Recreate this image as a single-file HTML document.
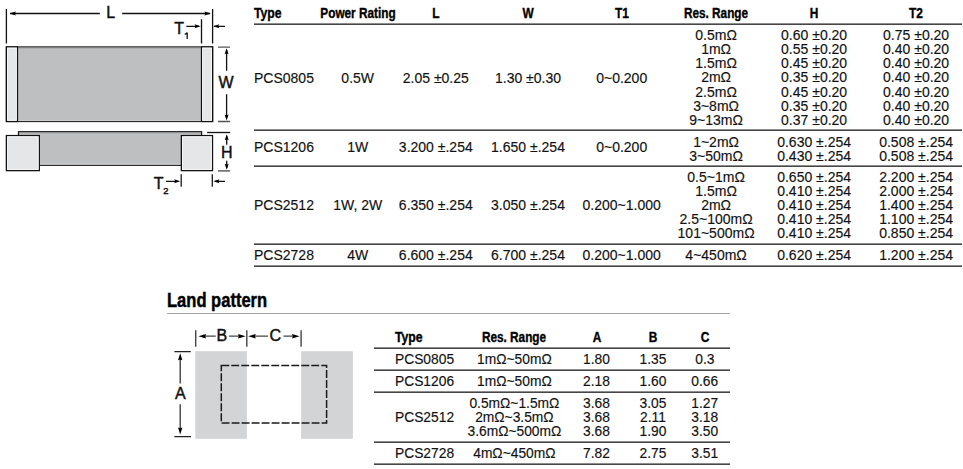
<!DOCTYPE html>
<html><head><meta charset="utf-8"><style>
html,body{margin:0;padding:0;background:#fff;}
body{width:963px;height:469px;position:relative;overflow:hidden;font-family:"Liberation Sans", sans-serif;}
.t{position:absolute;white-space:nowrap;-webkit-text-stroke:0.15px currentColor;}
.l{position:absolute;}
.d{position:absolute;left:0;top:0;}
</style></head><body>
<div class="t" style="left:254.00px;top:5.75px;font-size:14.0px;line-height:14.0px;font-weight:700;transform:scaleX(0.874);transform-origin:0 50%;color:#000;-webkit-text-stroke:0.35px #000;">Type</div><div class="t" style="left:357.70px;top:5.75px;font-size:14.0px;line-height:14.0px;font-weight:700;transform:translateX(-50%) scaleX(0.842);transform-origin:50% 50%;color:#000;-webkit-text-stroke:0.35px #000;">Power Rating</div><div class="t" style="left:435.80px;top:5.75px;font-size:14.0px;line-height:14.0px;font-weight:700;transform:translateX(-50%) scaleX(0.85);transform-origin:50% 50%;color:#000;-webkit-text-stroke:0.35px #000;">L</div><div class="t" style="left:528.00px;top:5.75px;font-size:14.0px;line-height:14.0px;font-weight:700;transform:translateX(-50%) scaleX(0.85);transform-origin:50% 50%;color:#000;-webkit-text-stroke:0.35px #000;">W</div><div class="t" style="left:621.70px;top:5.75px;font-size:14.0px;line-height:14.0px;font-weight:700;transform:translateX(-50%) scaleX(0.85);transform-origin:50% 50%;color:#000;-webkit-text-stroke:0.35px #000;">T1</div><div class="t" style="left:716.10px;top:5.75px;font-size:14.0px;line-height:14.0px;font-weight:700;transform:translateX(-50%) scaleX(0.842);transform-origin:50% 50%;color:#000;-webkit-text-stroke:0.35px #000;">Res. Range</div><div class="t" style="left:814.10px;top:5.75px;font-size:14.0px;line-height:14.0px;font-weight:700;transform:translateX(-50%) scaleX(0.85);transform-origin:50% 50%;color:#000;-webkit-text-stroke:0.35px #000;">H</div><div class="t" style="left:916.10px;top:5.75px;font-size:14.0px;line-height:14.0px;font-weight:700;transform:translateX(-50%) scaleX(0.85);transform-origin:50% 50%;color:#000;-webkit-text-stroke:0.35px #000;">T2</div><div class="l" style="left:254px;top:23px;width:708px;height:2px;background:linear-gradient(#8c8c8c 50%,#464646 50%)"></div><div class="l" style="left:254px;top:129px;width:708px;height:2px;background:linear-gradient(#8c8c8c 50%,#464646 50%)"></div><div class="l" style="left:254px;top:165px;width:708px;height:2px;background:linear-gradient(#8c8c8c 50%,#464646 50%)"></div><div class="l" style="left:254px;top:243px;width:708px;height:2px;background:linear-gradient(#8c8c8c 50%,#464646 50%)"></div><div class="l" style="left:254px;top:265px;width:708px;height:2px;background:linear-gradient(#8c8c8c 50%,#464646 50%)"></div><div class="t" style="left:254.00px;top:70.75px;font-size:14px;line-height:14px;color:#111;">PCS0805</div><div class="t" style="left:357.70px;top:70.75px;font-size:14px;line-height:14px;transform:translateX(-50%) scaleX(1.0);transform-origin:50% 50%;color:#111;">0.5W</div><div class="t" style="left:435.80px;top:70.75px;font-size:14px;line-height:14px;transform:translateX(-50%) scaleX(1.0);transform-origin:50% 50%;color:#111;">2.05 &plusmn;0.25</div><div class="t" style="left:528.00px;top:70.75px;font-size:14px;line-height:14px;transform:translateX(-50%) scaleX(1.0);transform-origin:50% 50%;color:#111;">1.30 &plusmn;0.30</div><div class="t" style="left:621.70px;top:70.75px;font-size:14px;line-height:14px;transform:translateX(-50%) scaleX(1.0);transform-origin:50% 50%;color:#111;">0~0.200</div><div class="t" style="left:716.10px;top:28.15px;font-size:14px;line-height:14px;transform:translateX(-50%) scaleX(1.0);transform-origin:50% 50%;color:#111;">0.5m&Omega;</div><div class="t" style="left:814.10px;top:28.15px;font-size:14px;line-height:14px;transform:translateX(-50%) scaleX(1.0);transform-origin:50% 50%;color:#111;">0.60 &plusmn;0.20</div><div class="t" style="left:916.10px;top:28.15px;font-size:14px;line-height:14px;transform:translateX(-50%) scaleX(1.0);transform-origin:50% 50%;color:#111;">0.75 &plusmn;0.20</div><div class="t" style="left:716.10px;top:42.25px;font-size:14px;line-height:14px;transform:translateX(-50%) scaleX(1.0);transform-origin:50% 50%;color:#111;">1m&Omega;</div><div class="t" style="left:814.10px;top:42.25px;font-size:14px;line-height:14px;transform:translateX(-50%) scaleX(1.0);transform-origin:50% 50%;color:#111;">0.55 &plusmn;0.20</div><div class="t" style="left:916.10px;top:42.25px;font-size:14px;line-height:14px;transform:translateX(-50%) scaleX(1.0);transform-origin:50% 50%;color:#111;">0.40 &plusmn;0.20</div><div class="t" style="left:716.10px;top:56.35px;font-size:14px;line-height:14px;transform:translateX(-50%) scaleX(1.0);transform-origin:50% 50%;color:#111;">1.5m&Omega;</div><div class="t" style="left:814.10px;top:56.35px;font-size:14px;line-height:14px;transform:translateX(-50%) scaleX(1.0);transform-origin:50% 50%;color:#111;">0.45 &plusmn;0.20</div><div class="t" style="left:916.10px;top:56.35px;font-size:14px;line-height:14px;transform:translateX(-50%) scaleX(1.0);transform-origin:50% 50%;color:#111;">0.40 &plusmn;0.20</div><div class="t" style="left:716.10px;top:70.45px;font-size:14px;line-height:14px;transform:translateX(-50%) scaleX(1.0);transform-origin:50% 50%;color:#111;">2m&Omega;</div><div class="t" style="left:814.10px;top:70.45px;font-size:14px;line-height:14px;transform:translateX(-50%) scaleX(1.0);transform-origin:50% 50%;color:#111;">0.35 &plusmn;0.20</div><div class="t" style="left:916.10px;top:70.45px;font-size:14px;line-height:14px;transform:translateX(-50%) scaleX(1.0);transform-origin:50% 50%;color:#111;">0.40 &plusmn;0.20</div><div class="t" style="left:716.10px;top:84.55px;font-size:14px;line-height:14px;transform:translateX(-50%) scaleX(1.0);transform-origin:50% 50%;color:#111;">2.5m&Omega;</div><div class="t" style="left:814.10px;top:84.55px;font-size:14px;line-height:14px;transform:translateX(-50%) scaleX(1.0);transform-origin:50% 50%;color:#111;">0.45 &plusmn;0.20</div><div class="t" style="left:916.10px;top:84.55px;font-size:14px;line-height:14px;transform:translateX(-50%) scaleX(1.0);transform-origin:50% 50%;color:#111;">0.40 &plusmn;0.20</div><div class="t" style="left:716.10px;top:98.65px;font-size:14px;line-height:14px;transform:translateX(-50%) scaleX(1.0);transform-origin:50% 50%;color:#111;">3~8m&Omega;</div><div class="t" style="left:814.10px;top:98.65px;font-size:14px;line-height:14px;transform:translateX(-50%) scaleX(1.0);transform-origin:50% 50%;color:#111;">0.35 &plusmn;0.20</div><div class="t" style="left:916.10px;top:98.65px;font-size:14px;line-height:14px;transform:translateX(-50%) scaleX(1.0);transform-origin:50% 50%;color:#111;">0.40 &plusmn;0.20</div><div class="t" style="left:716.10px;top:112.75px;font-size:14px;line-height:14px;transform:translateX(-50%) scaleX(1.0);transform-origin:50% 50%;color:#111;">9~13m&Omega;</div><div class="t" style="left:814.10px;top:112.75px;font-size:14px;line-height:14px;transform:translateX(-50%) scaleX(1.0);transform-origin:50% 50%;color:#111;">0.37 &plusmn;0.20</div><div class="t" style="left:916.10px;top:112.75px;font-size:14px;line-height:14px;transform:translateX(-50%) scaleX(1.0);transform-origin:50% 50%;color:#111;">0.40 &plusmn;0.20</div><div class="t" style="left:254.00px;top:140.15px;font-size:14px;line-height:14px;color:#111;">PCS1206</div><div class="t" style="left:357.70px;top:140.15px;font-size:14px;line-height:14px;transform:translateX(-50%) scaleX(1.0);transform-origin:50% 50%;color:#111;">1W</div><div class="t" style="left:435.80px;top:140.15px;font-size:14px;line-height:14px;transform:translateX(-50%) scaleX(1.0);transform-origin:50% 50%;color:#111;">3.200 &plusmn;.254</div><div class="t" style="left:528.00px;top:140.15px;font-size:14px;line-height:14px;transform:translateX(-50%) scaleX(1.0);transform-origin:50% 50%;color:#111;">1.650 &plusmn;.254</div><div class="t" style="left:621.70px;top:140.15px;font-size:14px;line-height:14px;transform:translateX(-50%) scaleX(1.0);transform-origin:50% 50%;color:#111;">0~0.200</div><div class="t" style="left:716.10px;top:134.75px;font-size:14px;line-height:14px;transform:translateX(-50%) scaleX(1.0);transform-origin:50% 50%;color:#111;">1~2m&Omega;</div><div class="t" style="left:814.10px;top:134.75px;font-size:14px;line-height:14px;transform:translateX(-50%) scaleX(1.0);transform-origin:50% 50%;color:#111;">0.630 &plusmn;.254</div><div class="t" style="left:916.10px;top:134.75px;font-size:14px;line-height:14px;transform:translateX(-50%) scaleX(1.0);transform-origin:50% 50%;color:#111;">0.508 &plusmn;.254</div><div class="t" style="left:716.10px;top:148.85px;font-size:14px;line-height:14px;transform:translateX(-50%) scaleX(1.0);transform-origin:50% 50%;color:#111;">3~50m&Omega;</div><div class="t" style="left:814.10px;top:148.85px;font-size:14px;line-height:14px;transform:translateX(-50%) scaleX(1.0);transform-origin:50% 50%;color:#111;">0.430 &plusmn;.254</div><div class="t" style="left:916.10px;top:148.85px;font-size:14px;line-height:14px;transform:translateX(-50%) scaleX(1.0);transform-origin:50% 50%;color:#111;">0.508 &plusmn;.254</div><div class="t" style="left:254.00px;top:197.95px;font-size:14px;line-height:14px;color:#111;">PCS2512</div><div class="t" style="left:357.70px;top:197.95px;font-size:14px;line-height:14px;transform:translateX(-50%) scaleX(1.0);transform-origin:50% 50%;color:#111;">1W, 2W</div><div class="t" style="left:435.80px;top:197.95px;font-size:14px;line-height:14px;transform:translateX(-50%) scaleX(1.0);transform-origin:50% 50%;color:#111;">6.350 &plusmn;.254</div><div class="t" style="left:528.00px;top:197.95px;font-size:14px;line-height:14px;transform:translateX(-50%) scaleX(1.0);transform-origin:50% 50%;color:#111;">3.050 &plusmn;.254</div><div class="t" style="left:621.70px;top:197.95px;font-size:14px;line-height:14px;transform:translateX(-50%) scaleX(1.0);transform-origin:50% 50%;color:#111;">0.200~1.000</div><div class="t" style="left:716.10px;top:170.35px;font-size:14px;line-height:14px;transform:translateX(-50%) scaleX(1.0);transform-origin:50% 50%;color:#111;">0.5~1m&Omega;</div><div class="t" style="left:814.10px;top:170.35px;font-size:14px;line-height:14px;transform:translateX(-50%) scaleX(1.0);transform-origin:50% 50%;color:#111;">0.650 &plusmn;.254</div><div class="t" style="left:916.10px;top:170.35px;font-size:14px;line-height:14px;transform:translateX(-50%) scaleX(1.0);transform-origin:50% 50%;color:#111;">2.200 &plusmn;.254</div><div class="t" style="left:716.10px;top:184.35px;font-size:14px;line-height:14px;transform:translateX(-50%) scaleX(1.0);transform-origin:50% 50%;color:#111;">1.5m&Omega;</div><div class="t" style="left:814.10px;top:184.35px;font-size:14px;line-height:14px;transform:translateX(-50%) scaleX(1.0);transform-origin:50% 50%;color:#111;">0.410 &plusmn;.254</div><div class="t" style="left:916.10px;top:184.35px;font-size:14px;line-height:14px;transform:translateX(-50%) scaleX(1.0);transform-origin:50% 50%;color:#111;">2.000 &plusmn;.254</div><div class="t" style="left:716.10px;top:198.35px;font-size:14px;line-height:14px;transform:translateX(-50%) scaleX(1.0);transform-origin:50% 50%;color:#111;">2m&Omega;</div><div class="t" style="left:814.10px;top:198.35px;font-size:14px;line-height:14px;transform:translateX(-50%) scaleX(1.0);transform-origin:50% 50%;color:#111;">0.410 &plusmn;.254</div><div class="t" style="left:916.10px;top:198.35px;font-size:14px;line-height:14px;transform:translateX(-50%) scaleX(1.0);transform-origin:50% 50%;color:#111;">1.400 &plusmn;.254</div><div class="t" style="left:716.10px;top:212.35px;font-size:14px;line-height:14px;transform:translateX(-50%) scaleX(1.0);transform-origin:50% 50%;color:#111;">2.5~100m&Omega;</div><div class="t" style="left:814.10px;top:212.35px;font-size:14px;line-height:14px;transform:translateX(-50%) scaleX(1.0);transform-origin:50% 50%;color:#111;">0.410 &plusmn;.254</div><div class="t" style="left:916.10px;top:212.35px;font-size:14px;line-height:14px;transform:translateX(-50%) scaleX(1.0);transform-origin:50% 50%;color:#111;">1.100 &plusmn;.254</div><div class="t" style="left:716.10px;top:226.35px;font-size:14px;line-height:14px;transform:translateX(-50%) scaleX(1.0);transform-origin:50% 50%;color:#111;">101~500m&Omega;</div><div class="t" style="left:814.10px;top:226.35px;font-size:14px;line-height:14px;transform:translateX(-50%) scaleX(1.0);transform-origin:50% 50%;color:#111;">0.410 &plusmn;.254</div><div class="t" style="left:916.10px;top:226.35px;font-size:14px;line-height:14px;transform:translateX(-50%) scaleX(1.0);transform-origin:50% 50%;color:#111;">0.850 &plusmn;.254</div><div class="t" style="left:254.00px;top:248.15px;font-size:14px;line-height:14px;color:#111;">PCS2728</div><div class="t" style="left:357.70px;top:248.15px;font-size:14px;line-height:14px;transform:translateX(-50%) scaleX(1.0);transform-origin:50% 50%;color:#111;">4W</div><div class="t" style="left:435.80px;top:248.15px;font-size:14px;line-height:14px;transform:translateX(-50%) scaleX(1.0);transform-origin:50% 50%;color:#111;">6.600 &plusmn;.254</div><div class="t" style="left:528.00px;top:248.15px;font-size:14px;line-height:14px;transform:translateX(-50%) scaleX(1.0);transform-origin:50% 50%;color:#111;">6.700 &plusmn;.254</div><div class="t" style="left:621.70px;top:248.15px;font-size:14px;line-height:14px;transform:translateX(-50%) scaleX(1.0);transform-origin:50% 50%;color:#111;">0.200~1.000</div><div class="t" style="left:716.10px;top:248.15px;font-size:14px;line-height:14px;transform:translateX(-50%) scaleX(1.0);transform-origin:50% 50%;color:#111;">4~450m&Omega;</div><div class="t" style="left:814.10px;top:248.15px;font-size:14px;line-height:14px;transform:translateX(-50%) scaleX(1.0);transform-origin:50% 50%;color:#111;">0.620 &plusmn;.254</div><div class="t" style="left:916.10px;top:248.15px;font-size:14px;line-height:14px;transform:translateX(-50%) scaleX(1.0);transform-origin:50% 50%;color:#111;">1.200 &plusmn;.254</div><div class="t" style="left:166.80px;top:289.87px;font-size:20px;line-height:20px;font-weight:700;transform:scaleX(0.827);transform-origin:0 50%;color:#000;-webkit-text-stroke:0.45px #000;">Land pattern</div><div class="l" style="left:167px;top:312.70px;width:563px;height:1.2px;background:#a2a3a7"></div><div class="t" style="left:394.60px;top:329.95px;font-size:14px;line-height:14px;font-weight:700;transform:scaleX(0.874);transform-origin:0 50%;color:#000;-webkit-text-stroke:0.35px #000;">Type</div><div class="t" style="left:514.20px;top:329.95px;font-size:14px;line-height:14px;font-weight:700;transform:translateX(-50%) scaleX(0.842);transform-origin:50% 50%;color:#000;-webkit-text-stroke:0.35px #000;">Res. Range</div><div class="t" style="left:596.50px;top:329.95px;font-size:14px;line-height:14px;font-weight:700;transform:translateX(-50%) scaleX(0.85);transform-origin:50% 50%;color:#000;-webkit-text-stroke:0.35px #000;">A</div><div class="t" style="left:653.00px;top:329.95px;font-size:14px;line-height:14px;font-weight:700;transform:translateX(-50%) scaleX(0.85);transform-origin:50% 50%;color:#000;-webkit-text-stroke:0.35px #000;">B</div><div class="t" style="left:704.80px;top:329.95px;font-size:14px;line-height:14px;font-weight:700;transform:translateX(-50%) scaleX(0.85);transform-origin:50% 50%;color:#000;-webkit-text-stroke:0.35px #000;">C</div><div class="l" style="left:374px;top:347px;width:356px;height:2px;background:linear-gradient(#8c8c8c 50%,#464646 50%)"></div><div class="l" style="left:374px;top:369px;width:356px;height:2px;background:linear-gradient(#8c8c8c 50%,#464646 50%)"></div><div class="l" style="left:374px;top:391px;width:356px;height:2px;background:linear-gradient(#8c8c8c 50%,#464646 50%)"></div><div class="l" style="left:374px;top:441px;width:356px;height:2px;background:linear-gradient(#8c8c8c 50%,#464646 50%)"></div><div class="l" style="left:374px;top:463px;width:356px;height:2px;background:linear-gradient(#8c8c8c 50%,#464646 50%)"></div><div class="t" style="left:395.00px;top:353.02px;font-size:13.8px;line-height:13.8px;color:#111;">PCS0805</div><div class="t" style="left:514.40px;top:353.02px;font-size:13.8px;line-height:13.8px;transform:translateX(-50%) scaleX(1.0);transform-origin:50% 50%;color:#111;">1m&Omega;~50m&Omega;</div><div class="t" style="left:596.50px;top:353.02px;font-size:13.8px;line-height:13.8px;transform:translateX(-50%) scaleX(1.0);transform-origin:50% 50%;color:#111;">1.80</div><div class="t" style="left:653.00px;top:353.02px;font-size:13.8px;line-height:13.8px;transform:translateX(-50%) scaleX(1.0);transform-origin:50% 50%;color:#111;">1.35</div><div class="t" style="left:704.80px;top:353.02px;font-size:13.8px;line-height:13.8px;transform:translateX(-50%) scaleX(1.0);transform-origin:50% 50%;color:#111;">0.3</div><div class="t" style="left:395.00px;top:374.92px;font-size:13.8px;line-height:13.8px;color:#111;">PCS1206</div><div class="t" style="left:514.40px;top:374.92px;font-size:13.8px;line-height:13.8px;transform:translateX(-50%) scaleX(1.0);transform-origin:50% 50%;color:#111;">1m&Omega;~50m&Omega;</div><div class="t" style="left:596.50px;top:374.92px;font-size:13.8px;line-height:13.8px;transform:translateX(-50%) scaleX(1.0);transform-origin:50% 50%;color:#111;">2.18</div><div class="t" style="left:653.00px;top:374.92px;font-size:13.8px;line-height:13.8px;transform:translateX(-50%) scaleX(1.0);transform-origin:50% 50%;color:#111;">1.60</div><div class="t" style="left:704.80px;top:374.92px;font-size:13.8px;line-height:13.8px;transform:translateX(-50%) scaleX(1.0);transform-origin:50% 50%;color:#111;">0.66</div><div class="t" style="left:395.00px;top:411.12px;font-size:13.8px;line-height:13.8px;color:#111;">PCS2512</div><div class="t" style="left:514.40px;top:396.82px;font-size:13.8px;line-height:13.8px;transform:translateX(-50%) scaleX(1.0);transform-origin:50% 50%;color:#111;">0.5m&Omega;~1.5m&Omega;</div><div class="t" style="left:596.50px;top:396.82px;font-size:13.8px;line-height:13.8px;transform:translateX(-50%) scaleX(1.0);transform-origin:50% 50%;color:#111;">3.68</div><div class="t" style="left:653.00px;top:396.82px;font-size:13.8px;line-height:13.8px;transform:translateX(-50%) scaleX(1.0);transform-origin:50% 50%;color:#111;">3.05</div><div class="t" style="left:704.80px;top:396.82px;font-size:13.8px;line-height:13.8px;transform:translateX(-50%) scaleX(1.0);transform-origin:50% 50%;color:#111;">1.27</div><div class="t" style="left:514.40px;top:410.92px;font-size:13.8px;line-height:13.8px;transform:translateX(-50%) scaleX(1.0);transform-origin:50% 50%;color:#111;">2m&Omega;~3.5m&Omega;</div><div class="t" style="left:596.50px;top:410.92px;font-size:13.8px;line-height:13.8px;transform:translateX(-50%) scaleX(1.0);transform-origin:50% 50%;color:#111;">3.68</div><div class="t" style="left:653.00px;top:410.92px;font-size:13.8px;line-height:13.8px;transform:translateX(-50%) scaleX(1.0);transform-origin:50% 50%;color:#111;">2.11</div><div class="t" style="left:704.80px;top:410.92px;font-size:13.8px;line-height:13.8px;transform:translateX(-50%) scaleX(1.0);transform-origin:50% 50%;color:#111;">3.18</div><div class="t" style="left:514.40px;top:424.92px;font-size:13.8px;line-height:13.8px;transform:translateX(-50%) scaleX(1.0);transform-origin:50% 50%;color:#111;">3.6m&Omega;~500m&Omega;</div><div class="t" style="left:596.50px;top:424.92px;font-size:13.8px;line-height:13.8px;transform:translateX(-50%) scaleX(1.0);transform-origin:50% 50%;color:#111;">3.68</div><div class="t" style="left:653.00px;top:424.92px;font-size:13.8px;line-height:13.8px;transform:translateX(-50%) scaleX(1.0);transform-origin:50% 50%;color:#111;">1.90</div><div class="t" style="left:704.80px;top:424.92px;font-size:13.8px;line-height:13.8px;transform:translateX(-50%) scaleX(1.0);transform-origin:50% 50%;color:#111;">3.50</div><div class="t" style="left:395.00px;top:446.52px;font-size:13.8px;line-height:13.8px;color:#111;">PCS2728</div><div class="t" style="left:514.40px;top:446.52px;font-size:13.8px;line-height:13.8px;transform:translateX(-50%) scaleX(1.0);transform-origin:50% 50%;color:#111;">4m&Omega;~450m&Omega;</div><div class="t" style="left:596.50px;top:446.52px;font-size:13.8px;line-height:13.8px;transform:translateX(-50%) scaleX(1.0);transform-origin:50% 50%;color:#111;">7.82</div><div class="t" style="left:653.00px;top:446.52px;font-size:13.8px;line-height:13.8px;transform:translateX(-50%) scaleX(1.0);transform-origin:50% 50%;color:#111;">2.75</div><div class="t" style="left:704.80px;top:446.52px;font-size:13.8px;line-height:13.8px;transform:translateX(-50%) scaleX(1.0);transform-origin:50% 50%;color:#111;">3.51</div><svg class="d" width="963" height="469" viewBox="0 0 963 469"><rect x="6.4" y="46.9" width="206.2" height="74.6" fill="#bebfc1" stroke="#2a2a2a" stroke-width="1.25"/><path d="M7.2 48.1H200.8" stroke="#9a9a9c" stroke-width="0.8"/><path d="M7.2 120.5H200.8" stroke="#d4d5d7" stroke-width="0.8"/><rect x="6.4" y="46.9" width="11.1" height="74.6" fill="#e5e6e8" stroke="#111" stroke-width="1.25"/><rect x="7.6000000000000005" y="48.1" width="8.7" height="72.2" fill="none" stroke="#fafafa" stroke-width="0.8"/><rect x="201.5" y="46.9" width="11.1" height="74.6" fill="#e5e6e8" stroke="#111" stroke-width="1.25"/><rect x="202.7" y="48.1" width="8.7" height="72.2" fill="none" stroke="#fafafa" stroke-width="0.8"/><rect x="18.5" y="131.7" width="183.1" height="33.6" fill="#bebfc1" stroke="#1a1a1a" stroke-width="1.25"/><path d="M19.3 132.9H200.8" stroke="#9a9a9c" stroke-width="0.8"/><path d="M19.3 164.2H200.8" stroke="#d8d9db" stroke-width="0.9"/><rect x="6.4" y="135.6" width="32.9" height="35.0" fill="#e5e6e8" stroke="#111" stroke-width="1.35"/><rect x="7.6000000000000005" y="136.8" width="30.5" height="32.6" fill="none" stroke="#fbfbfb" stroke-width="0.9"/><rect x="181.4" y="135.6" width="31.1" height="35.0" fill="#e5e6e8" stroke="#111" stroke-width="1.35"/><rect x="182.6" y="136.8" width="28.700000000000003" height="32.6" fill="none" stroke="#fbfbfb" stroke-width="0.9"/><path d="M6.4 9V43.5M212.6 9V43.5" stroke="#111" stroke-width="1.3" fill="none"/><path d="M10 13.5H99.8M122.2 13.5H210" stroke="#111" stroke-width="1.3" fill="none"/><polygon points="9.4,13.5 15.9,11.4 14.9,13.5 15.9,15.6" fill="#000"/><polygon points="210.9,13.5 204.4,11.4 205.4,13.5 204.4,15.6" fill="#000"/><path d="M201.5 19.2V43.5" stroke="#111" stroke-width="1.3" fill="none"/><path d="M186.3 26.3H199M214 26.3H225" stroke="#111" stroke-width="1.3" fill="none"/><polygon points="200.6,26.3 194.6,24.3 195.6,26.3 194.6,28.3" fill="#000"/><polygon points="213.2,26.3 219.2,24.3 218.2,26.3 219.2,28.3" fill="#000"/><path d="M218 47.1H230M218 121.5H230" stroke="#555" stroke-width="1.4" fill="none"/><path d="M226.6 50V70.8M226.6 94.2V118" stroke="#111" stroke-width="1.3" fill="none"/><polygon points="226.6,48.2 224.6,54.2 226.6,53.2 228.6,54.2" fill="#000"/><polygon points="226.6,120.4 224.6,114.4 226.6,115.4 228.6,114.4" fill="#000"/><path d="M207.1 132.5H230.1" stroke="#111" stroke-width="1.3" fill="none"/><path d="M218 170.9H230.1" stroke="#555" stroke-width="1.4" fill="none"/><path d="M226.7 136V144.7M226.7 160.8V168" stroke="#111" stroke-width="1.3" fill="none"/><polygon points="226.7,134.2 224.7,140.2 226.7,139.2 228.7,140.2" fill="#000"/><polygon points="226.7,169.8 224.7,163.8 226.7,164.8 228.7,163.8" fill="#000"/><path d="M181.2 174.3V186.7M212.3 174.3V186.7" stroke="#1a1a1a" stroke-width="1.3" fill="none"/><path d="M165.9 181.3H178M215 181.3H225" stroke="#111" stroke-width="1.3" fill="none"/><polygon points="180.2,181.3 174.2,179.3 175.2,181.3 174.2,183.3" fill="#000"/><polygon points="213.4,181.3 219.4,179.3 218.4,181.3 219.4,183.3" fill="#000"/><rect x="195.3" y="351.2" width="51.6" height="87.6" fill="#d3d4d6"/><rect x="301.1" y="351.2" width="51.8" height="87.6" fill="#d3d4d6"/><rect x="221.3" y="365.4" width="105.3" height="57.6" fill="none" stroke="#1a1a1a" stroke-width="1.5" stroke-dasharray="7.9 2.1"/><path d="M195.7 330.3V346.8M246.8 330.3V346.8M301.1 330.3V346.8" stroke="#444" stroke-width="1.4" fill="none"/><path d="M205 336.2H215.7M229.1 336.2H239M253 336.2H268M283.5 336.2H294" stroke="#444" stroke-width="1.3" fill="none"/><polygon points="198.5,336.2 206.0,333.9 205.3,336.2 206.0,338.5" fill="#000"/><polygon points="245.6,336.2 238.1,333.9 238.79999999999998,336.2 238.1,338.5" fill="#000"/><polygon points="248.2,336.2 255.7,333.9 255.0,336.2 255.7,338.5" fill="#000"/><polygon points="299.6,336.2 292.1,333.9 292.8,336.2 292.1,338.5" fill="#000"/><path d="M174.4 351.6H190.8M174.3 436.6H191" stroke="#222" stroke-width="1.4" fill="none"/><path d="M180.2 358V383.5M180.2 404.2V430" stroke="#333" stroke-width="1.3" fill="none"/><polygon points="180.2,353.3 178.0,360.3 180.2,359.6 182.39999999999998,360.3" fill="#000"/><polygon points="180.2,434.6 178.0,427.6 180.2,428.3 182.39999999999998,427.6" fill="#000"/><path d="M187.2 32.6V39M187.2 32.8L184.8 34.6" stroke="#111" stroke-width="1.3" fill="none"/></svg><div class="t" style="left:106.20px;top:5.36px;font-size:16px;line-height:16px;color:#111;-webkit-text-stroke:0.45px #111;">L</div><div class="t" style="left:174.20px;top:21.46px;font-size:16px;line-height:16px;color:#111;-webkit-text-stroke:0.45px #111;">T</div><div class="t" style="left:226.00px;top:75.46px;font-size:16px;line-height:16px;transform:translateX(-50%) scaleX(1);transform-origin:50% 50%;color:#111;-webkit-text-stroke:0.45px #111;">W</div><div class="t" style="left:226.90px;top:145.06px;font-size:16px;line-height:16px;transform:translateX(-50%) scaleX(1);transform-origin:50% 50%;color:#111;-webkit-text-stroke:0.45px #111;">H</div><div class="t" style="left:153.70px;top:176.36px;font-size:16px;line-height:16px;color:#111;-webkit-text-stroke:0.45px #111;">T</div><div class="t" style="left:163.30px;top:186.04px;font-size:9.4px;line-height:9.4px;color:#111;-webkit-text-stroke:0.45px #111;">2</div><div class="t" style="left:221.90px;top:328.36px;font-size:16px;line-height:16px;transform:translateX(-50%) scaleX(1);transform-origin:50% 50%;color:#111;-webkit-text-stroke:0.45px #111;">B</div><div class="t" style="left:275.40px;top:328.36px;font-size:16px;line-height:16px;transform:translateX(-50%) scaleX(1);transform-origin:50% 50%;color:#111;-webkit-text-stroke:0.45px #111;">C</div><div class="t" style="left:180.30px;top:386.36px;font-size:16px;line-height:16px;transform:translateX(-50%) scaleX(1);transform-origin:50% 50%;color:#111;-webkit-text-stroke:0.45px #111;">A</div>
</body></html>
